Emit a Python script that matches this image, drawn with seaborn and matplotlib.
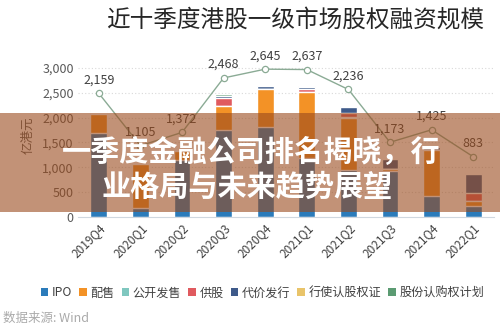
import numpy as np
import pandas as pd
import matplotlib
matplotlib.use("Agg")
import matplotlib.pyplot as plt
from matplotlib.patches import Rectangle, Patch
import seaborn as sns

sns.set_theme(style="white")
plt.rcParams['font.family'] = ['Noto Sans CJK SC', 'DejaVu Sans']

quarters = ["2019Q4", "2020Q1", "2020Q2", "2020Q3", "2020Q4",
            "2021Q1", "2021Q2", "2021Q3", "2021Q4", "2022Q1"]
totals = [2159, 1105, 1372, 2468, 2645, 2637, 2236, 1173, 1425, 883]

ipo       = [1690, 175, 1150, 1750, 1810, 1180, 950, 930, 420, 230]
placing   = [390, 890, 180, 480, 760, 1330, 1050, 40, 930, 90]
public    = [10, 5, 5, 10, 5, 5, 5, 0, 0, 0]
rights    = [20, 10, 10, 160, 0, 60, 80, 0, 0, 160]
consider  = [20, 15, 15, 30, 60, 50, 130, 190, 60, 390]
warrants  = [0, 0, 0, 0, 0, 0, 0, 0, 0, 0]
options   = [29, 10, 12, 38, 10, 12, 21, 13, 15, 13]

series_names = ["IPO", "配售", "公开发售", "供股", "代价发行", "行使认股权证", "股份认购权计划"]
series_vals = [ipo, placing, public, rights, consider, warrants, options]
colors = ["#2b7bba", "#f39226", "#7fc7bf", "#e05a5f", "#3e5a8a", "#e9c46a", "#5b9b72"]

fig = plt.figure(figsize=(5, 3.29), dpi=100)
ax = fig.add_axes([0.156, 1 - 217 / 329, 0.832, 164 / 329])

cum = np.cumsum(np.array(series_vals), axis=0)
for k in range(len(series_names) - 1, -1, -1):
    df = pd.DataFrame({"q": quarters, "v": cum[k]})
    sns.barplot(data=df, x="q", y="v", color=colors[k], width=0.4,
                saturation=1, ax=ax, zorder=2)

ax.set_ylim(0, 3300)
ax.set_xlim(-0.5, len(quarters) - 0.5)
ax.set_yticks([0, 500, 1000, 1500, 2000, 2500, 3000])
ax.set_yticklabels([f"{t:,}" for t in [0, 500, 1000, 1500, 2000, 2500, 3000]],
                   fontsize=9, color="#595959")
for t in [500, 1000, 1500, 2000, 2500, 3000]:
    ax.axhline(t, color="#d9d9d9", lw=0.8, ls=(0, (1, 2)), zorder=1)
ax.set_xticks(range(len(quarters)))
ax.set_xticklabels(quarters, rotation=45, ha="right", rotation_mode="anchor",
                   fontsize=8.5, color="#404040")
ax.tick_params(axis="both", length=0, pad=3)
ax.set_xlabel("")
ax.set_ylabel("亿港元", fontsize=9, color="#595959", labelpad=6)
for s in ["top", "right", "left"]:
    ax.spines[s].set_visible(False)
ax.spines["bottom"].set_color("#d0d8e0")
ax.spines["bottom"].set_linewidth(0.8)

ax2 = ax.twinx()
ax2.set_ylim(-330, 2970)
sns.lineplot(x=np.arange(len(quarters)), y=totals, ax=ax2, color="#8bab95",
             lw=1.0, marker="o", markersize=4.5, markerfacecolor="white",
             markeredgecolor="#8bab95", markeredgewidth=0.9)
for i, v in enumerate(totals):
    ax2.annotate(f"{v:,}", (i, v), xytext=(0, 5), textcoords="offset points",
                 ha="center", va="bottom", fontsize=9, color="#404040")
ax2.set_yticks([])
ax2.set_ylabel("")
for s in ax2.spines.values():
    s.set_visible(False)

fig.text(0.591, 1 - 20 / 329, "近十季度港股一级市场股权融资规模", ha="center",
         va="center", fontsize=17, color="#262626")

handles = [Patch(facecolor=c, edgecolor="none") for c in colors]
fig.legend(handles, series_names, loc="center", bbox_to_anchor=(0.525, 1 - 293 / 329),
           ncol=7, frameon=False, fontsize=8.7, handlelength=0.6, handleheight=0.6,
           handletextpad=0.3, columnspacing=0.6, labelcolor="#404040")

fig.text(0.006, 1 - 318 / 329, "数据来源: Wind", ha="left", va="center",
         fontsize=9, color="#aaaaaa")

band = Rectangle((0, 1 - 212 / 329), 1, 99 / 329, transform=fig.transFigure,
                 facecolor="#9a4a1c", alpha=0.6, edgecolor="none", zorder=10)
fig.add_artist(band)
fig.text(0.502, 1 - 152 / 329, "一季度金融公司排名揭晓，行", ha="center", va="center",
         fontsize=21, fontweight="heavy", color="white", zorder=11)
fig.text(0.495, 1 - 187 / 329, "业格局与未来趋势展望", ha="center", va="center",
         fontsize=21, fontweight="heavy", color="white", zorder=11)

fig.savefig("out.png", dpi=100)
